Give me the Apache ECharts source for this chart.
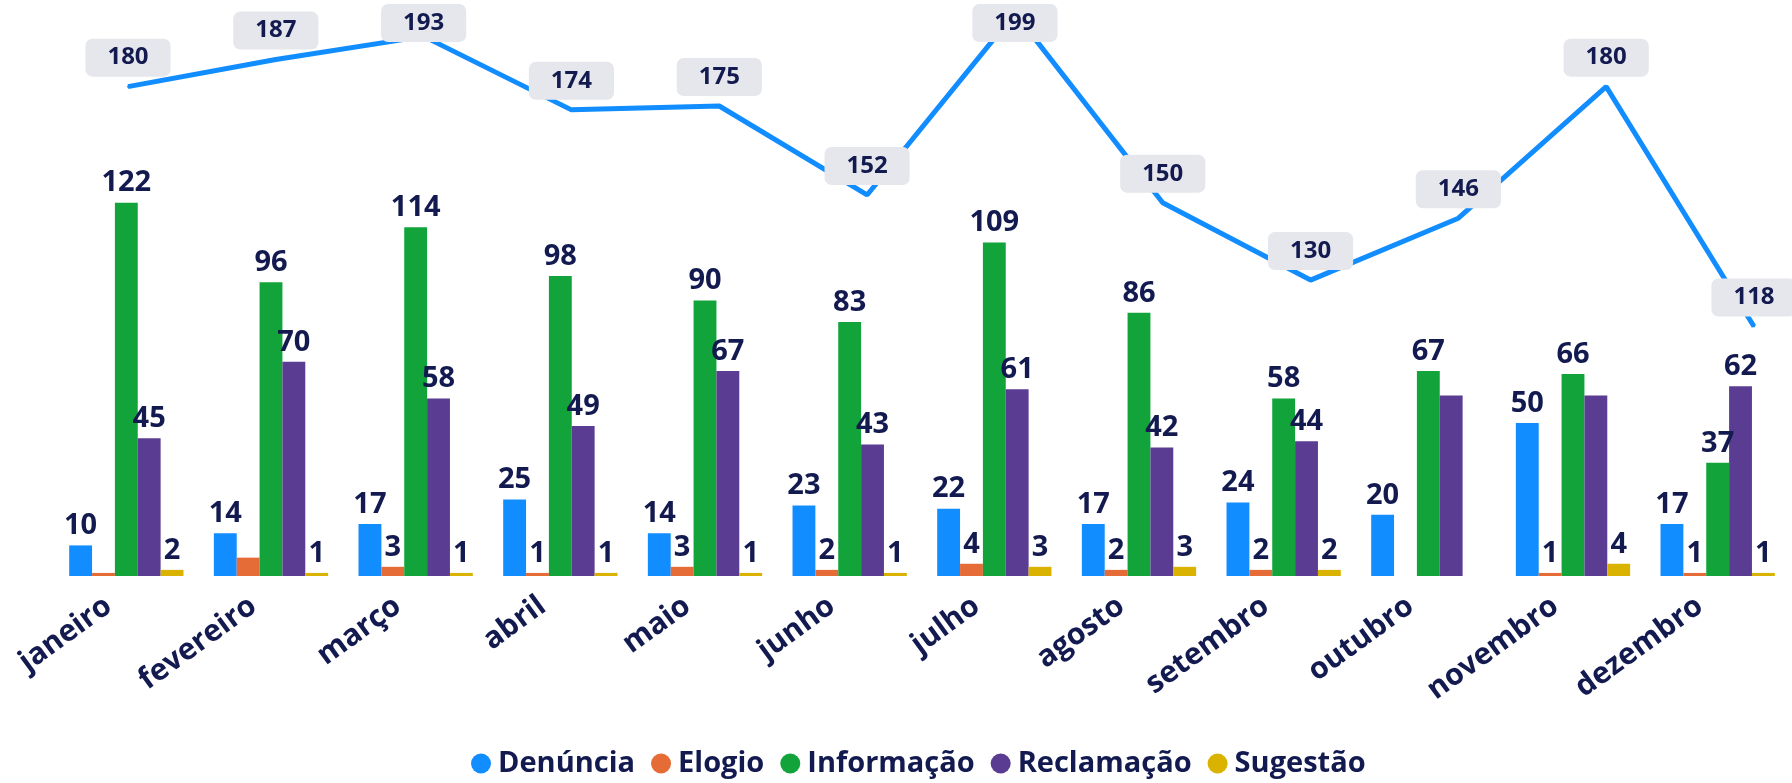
<!DOCTYPE html>
<html>
<head>
<meta charset="utf-8">
<script src="https://cdn.jsdelivr.net/npm/echarts@6/dist/echarts.min.js"></script>
<style>
    html, body { margin: 0; padding: 0; background: #fff; }
    #chart { width: 1792px; height: 783px; }
</style>
</head>
<body>
<div id="chart"></div>
<script>
var meses = ['janeiro', 'fevereiro', 'março', 'abril', 'maio', 'junho', 'julho', 'agosto', 'setembro', 'outubro', 'novembro', 'dezembro'];
var denuncia = [10, 14, 17, 25, 14, 23, 22, 17, 24, 20, 50, 17];
var elogio = [1, 6, 3, 1, 3, 2, 4, 2, 2, null, 1, 1];
var informacao = [122, 96, 114, 98, 90, 83, 109, 86, 58, 67, 66, 37];
var reclamacao = [45, 70, 58, 49, 67, 43, 61, 42, 44, 59, 59, 62];
var sugestao = [2, 1, 1, 1, 1, 1, 3, 3, 2, null, 4, 1];
var total = [180, 187, 193, 174, 175, 152, 199, 150, 130, 146, 180, 118];

// labels the original report leaves out
var semRotulo = { 'Elogio': [0, 1], 'Reclamação': [9, 10] };

var corTexto = '#121a4f';
var fonte = '"Open Sans", sans-serif';

function serieBarra(nome, valores, cor) {
    var ocultos = semRotulo[nome] || [];
    return {
        name: nome,
        type: 'bar',
        xAxisIndex: 0,
        yAxisIndex: 0,
        barGap: 0,
        barCategoryGap: '21%',
        itemStyle: { color: cor },
        label: {
            show: true,
            position: 'top',
            distance: 5,
            color: corTexto,
            fontFamily: fonte,
            fontWeight: 'bold',
            fontSize: 29
        },
        data: valores.map(function(v, i) {
            if (ocultos.indexOf(i) >= 0) return { value: v, label: { show: false } };
            return v;
        })
    };
}

var chart = echarts.init(document.getElementById('chart'));
chart.setOption({
    animation: false,
    textStyle: { fontFamily: fonte },
    legend: {
        top: 744,
        left: 466,
        icon: 'circle',
        itemWidth: 20,
        itemHeight: 20,
        itemGap: 16,
        textStyle: { color: corTexto, fontWeight: 'bold', fontSize: 29, fontFamily: fonte, padding: [0, 0, 0, 2] },
        data: ['Denúncia', 'Elogio', 'Informação', 'Reclamação', 'Sugestão']
    },
    grid: [
        { left: 54, right: 2, top: 117, bottom: 207, outerBoundsMode: 'none' },
        { left: 128, right: 38, top: 0, bottom: 0, outerBoundsMode: 'none' }
    ],
    xAxis: [
        {
            type: 'category',
            gridIndex: 0,
            data: meses,
            axisLine: { show: false },
            axisTick: { show: false },
            axisLabel: {
                rotate: 36,
                margin: 14,
                interval: 0,
                formatter: function(v) { return '{m|' + v + '}{e|}'; },
                rich: {
                    m: { color: corTexto, fontFamily: fonte, fontWeight: 'bold', fontSize: 30 },
                    e: { width: 22 }
                }
            }
        },
        {
            type: 'category',
            gridIndex: 1,
            data: meses,
            boundaryGap: false,
            show: false
        }
    ],
    yAxis: [
        { type: 'value', gridIndex: 0, min: 0, max: 150, show: false, splitLine: { show: false } },
        { type: 'value', gridIndex: 1, min: 0, max: 202.4, show: false, splitLine: { show: false } }
    ],
    series: [
        serieBarra('Denúncia', denuncia, '#118DFF'),
        serieBarra('Elogio', elogio, '#E66C37'),
        serieBarra('Informação', informacao, '#12A33A'),
        serieBarra('Reclamação', reclamacao, '#5A3C92'),
        serieBarra('Sugestão', sugestao, '#D9B300'),
        {
            name: 'Total',
            type: 'line',
            xAxisIndex: 1,
            yAxisIndex: 1,
            data: total,
            symbol: 'circle',
            showSymbol: true,
            symbolSize: 2,
            lineStyle: { color: '#118DFF', width: 5 },
            itemStyle: { color: '#118DFF' },
            label: {
                show: true,
                position: 'top',
                distance: 9,
                color: corTexto,
                fontFamily: fonte,
                fontWeight: 'bold',
                fontSize: 24,
                backgroundColor: '#E6E7EC',
                borderRadius: 7,
                padding: [7, 22]
            },
            labelLayout: function(params) {
                var r = params.labelRect;
                if (r.y < 4) return { dy: 4 - r.y };
                return {};
            },
            z: 3
        }
    ]
});

window.onresize = function() {
    chart.resize();
};
</script>
</body>
</html>
